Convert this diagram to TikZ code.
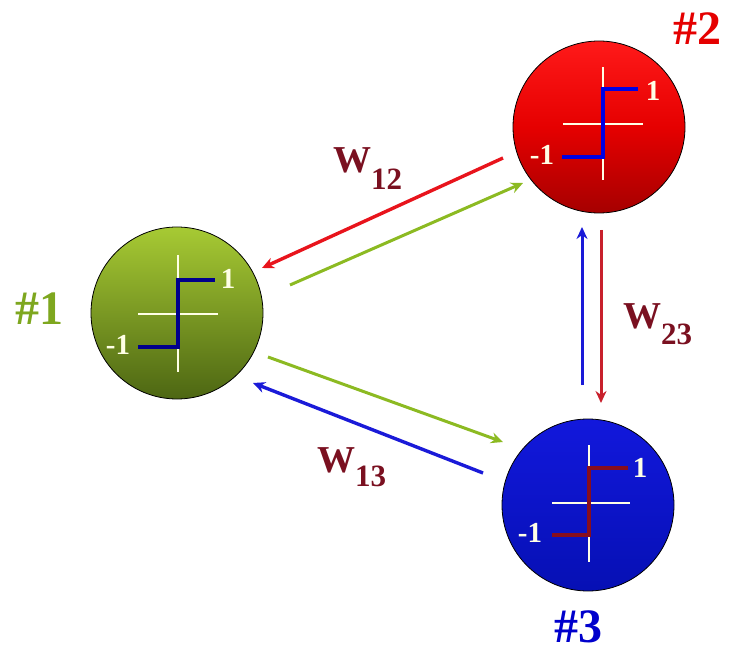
\documentclass[tikz,border=0pt]{standalone}
\usepackage{fontspec}
\setmainfont{Liberation Serif}
\usetikzlibrary{arrows.meta}
\definecolor{cgreen}{HTML}{8CBA22}
\definecolor{cred}{HTML}{E8141C}
\definecolor{cblue}{HTML}{1A1AD8}
\definecolor{cdark}{HTML}{7A1020}
\definecolor{cdown}{HTML}{C8202C}
\definecolor{cpale}{HTML}{FFFFE6}
\definecolor{btop}{HTML}{1218DC}
\definecolor{bbot}{HTML}{0610B4}
\tikzset{
  x=1pt, y=1pt,
  ball/.style={circle, draw=black, line width=0.8pt, minimum size=172pt, inner sep=0pt},
  axisline/.style={draw=cpale, line width=1.5pt},
  stepline/.style={line width=3.8pt, line cap=butt, line join=miter},
  num/.style={text=cpale, font=\bfseries\fontsize{29}{29}\selectfont, inner sep=0pt},
  link/.style={line width=3.4pt, -{Stealth[length=12pt,width=11pt]}},
  wlabel/.style={text=cdark, anchor=base west, inner sep=0pt, font=\bfseries\fontsize{38}{38}\selectfont},
  tag/.style={font=\bfseries\fontsize{48}{48}\selectfont, inner sep=0pt, anchor=base}
}
\newcommand{\wsub}[2]{W\raisebox{-#2pt}{\fontsize{31}{31}\selectfont #1}}
\begin{document}
\begin{tikzpicture}
\useasboundingbox (0,0) rectangle (733,654);
% spheres
\node[ball, top color=cgreen!85!yellow!90!white, bottom color=cgreen!55!black] (n1) at (177,341) {};
\node[ball, top color=red!90!white, bottom color=red!65!black, middle color=red!90!black] (n2) at (599,527) {};
\node[ball, top color=btop, bottom color=bbot] (n3) at (588,149) {};
% sphere 1 curve
\draw[axisline] (178,399) -- (178,282);
\draw[axisline] (138,340) -- (218,340);
\draw[stepline, draw=blue!55!black] (138,307) -- (178,307) -- (178,374) -- (215,374);
\node[num] (n1p) at (228,375) {1};
\node[num] (n1m) at (118,309) {-1};
% sphere 2 curve
\draw[axisline] (603,587) -- (603,474);
\draw[axisline] (563,530) -- (643,530);
\draw[stepline, draw=blue!90!black] (562,497) -- (603,497) -- (603,565) -- (638,565);
\node[num] (n2p) at (653,563) {1};
\node[num] (n2m) at (542,499) {-1};
% sphere 3 curve
\draw[axisline] (589,209) -- (589,92);
\draw[axisline] (552,151) -- (630,151);
\draw[stepline, draw=cdark!90!red] (552,119) -- (589,119) -- (589,186) -- (628,186);
\node[num] (n3p) at (640,186) {1};
\node[num] (n3m) at (530,121) {-1};
% arrow end points
\coordinate (a1) at (503,496); \coordinate (a2) at (262,386);
\coordinate (b1) at (290,369); \coordinate (b2) at (523,471);
\coordinate (c1) at (268,297); \coordinate (c2) at (503,212);
\coordinate (d1) at (483,181); \coordinate (d2) at (253,271);
\coordinate (e1) at (582,269); \coordinate (e2) at (582,427);
\coordinate (f1) at (601,424); \coordinate (f2) at (601,251);
\draw[link, draw=cred, fill=cred] (a1) -- (a2);
\draw[link, draw=cgreen, fill=cgreen, line width=3pt] (b1) -- (b2);
\draw[link, draw=cgreen, fill=cgreen, line width=3pt] (c1) -- (c2);
\draw[link, draw=cblue, fill=cblue] (d1) -- (d2);
\draw[link, draw=cblue, fill=cblue, line width=3pt] (e1) -- (e2);
\draw[link, draw=cdown, fill=red, line width=3pt] (f1) -- (f2);
% weight labels
\node[wlabel] (w12) at (333,481) {\wsub{12}{17}};
\node[wlabel] (w13) at (317,182) {\wsub{13}{14}};
\node[wlabel] (w23) at (623,326) {\wsub{23}{17}};
% tags
\node[tag, text=cgreen!90!black] (t1) at (40,329) {\#1};
\node[tag, text=red!90!black] (t2) at (697,609) {\#2};
\node[tag, text=blue!80!black] (t3) at (578,12) {\#3};
\end{tikzpicture}
\end{document}
